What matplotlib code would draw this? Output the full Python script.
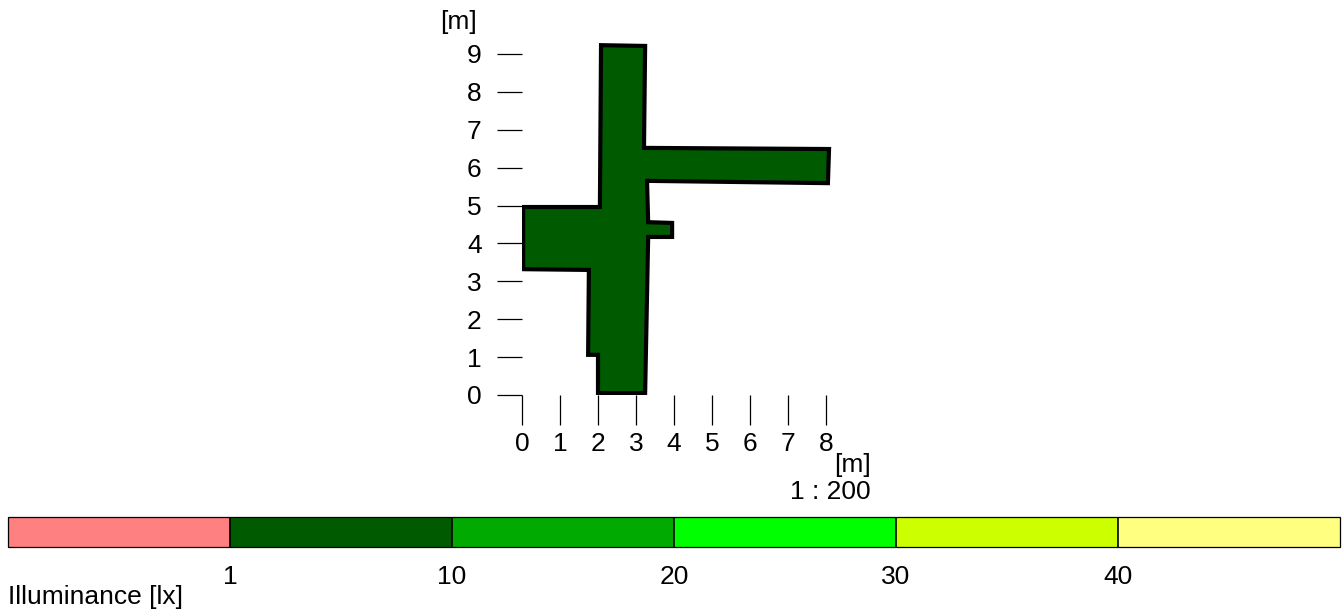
#!/usr/bin/env python3
"""Floor plan illuminance map with a banded false-colour legend."""

import matplotlib

matplotlib.use("Agg")
matplotlib.rcParams.update(
    {
        "font.family": ["Liberation Sans", "DejaVu Sans"],
        "font.size": 19,
    }
)
import matplotlib.pyplot as plt
import numpy as np
from matplotlib.colors import BoundaryNorm, ListedColormap
from matplotlib.patches import Polygon

# room outline in metres (walked clockwise from the top-left corner)
ROOM_X = [2.08, 3.24, 3.21, 8.08, 8.05, 3.29, 3.32, 3.95, 3.95, 3.32,
          3.24, 2.00, 2.00, 1.74, 1.76, 0.03, 0.03, 2.05]
ROOM_Y = [9.23, 9.21, 6.52, 6.49, 5.59, 5.65, 4.56, 4.54, 4.17, 4.17,
          0.05, 0.05, 1.06, 1.06, 3.30, 3.32, 4.96, 4.96]
ROOM_LUX = 5.0

X_TICKS = [0, 1, 2, 3, 4, 5, 6, 7, 8]
Y_TICKS = [0, 1, 2, 3, 4, 5, 6, 7, 8, 9]

LUX_BOUNDS = [0, 1, 10, 20, 30, 40, 50]
LUX_LABELS = [1, 10, 20, 30, 40]
LUX_COLORS = ["#ff8080", "#005a00", "#00aa00", "#00ff00", "#ccff00", "#ffff80"]

W, H = 1344, 610
FS = 19

cmap = ListedColormap(LUX_COLORS)
norm = BoundaryNorm(LUX_BOUNDS, cmap.N)

fig = plt.figure(figsize=(W / 100, H / 100), dpi=100)

# plan axes: origin sits at (522, 395) px, 38 px per metre
ax = fig.add_axes([522 / W, 1 - 395 / H, 8.3 * 38 / W, 9.4 * 37.9 / H])
ax.set_xlim(0, 8.3)
ax.set_ylim(0, 9.4)
for side in ax.spines.values():
    side.set_visible(False)
ax.set_xticks(X_TICKS)
ax.set_yticks(Y_TICKS)
ax.tick_params(axis="x", direction="out", length=21.6, width=0.9, pad=5,
               labelsize=FS)
ax.tick_params(axis="y", direction="out", length=18, width=0.9, pad=11,
               labelsize=FS)

room = Polygon(
    np.column_stack([ROOM_X, ROOM_Y]),
    closed=True,
    facecolor=cmap(norm(ROOM_LUX)),
    edgecolor="black",
    linewidth=3.0,
    joinstyle="miter",
)
ax.add_patch(room)

fig.text(459 / W, 1 - 22 / H, "[m]", ha="center", va="center", fontsize=FS)
fig.text(871 / W, 1 - 465 / H, "[m]", ha="right", va="center", fontsize=FS)
fig.text(871 / W, 1 - 492 / H, "1 : 200", ha="right", va="center",
         fontsize=FS)

# banded legend underneath the plan
cax = fig.add_axes([8 / W, 1 - 547 / H, 1332 / W, 30 / H])
sm = plt.cm.ScalarMappable(cmap=cmap, norm=norm)
cb = fig.colorbar(sm, cax=cax, orientation="horizontal", spacing="uniform",
                  drawedges=True, ticks=LUX_LABELS)
cb.outline.set_linewidth(0.9)
cb.dividers.set_linewidth(1.2)
cax.minorticks_off()
cax.tick_params(which="both", length=0, pad=13, labelsize=FS)
fig.text(8 / W, 1 - 597 / H, "Illuminance [lx]", ha="left", va="center",
         fontsize=FS)

fig.savefig("out.png", dpi=100)
